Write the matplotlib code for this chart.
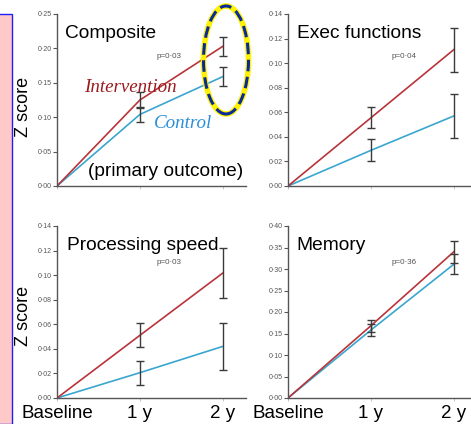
import matplotlib
matplotlib.use("Agg")
import matplotlib.pyplot as plt
import numpy as np
from matplotlib.patches import Ellipse, Rectangle

W, H = 471, 424

timepoints = [0, 1, 2]
time_labels = ["Baseline", "1 y", "2 y"]

panel_titles = ["Composite", "Exec functions", "Processing speed", "Memory"]
p_values = ["p=0·03", "p=0·04", "p=0·03", "p=0·36"]

comp_int = [0.0, 0.125, 0.203]
comp_int_err = [0.0, 0.011, 0.014]
comp_ctl = [0.0, 0.104, 0.159]
comp_ctl_err = [0.0, 0.0105, 0.014]

exec_int = [0.0, 0.0555, 0.111]
exec_int_err = [0.0, 0.0086, 0.018]
exec_ctl = [0.0, 0.029, 0.057]
exec_ctl_err = [0.0, 0.009, 0.018]

proc_int = [0.0, 0.051, 0.1017]
proc_int_err = [0.0, 0.0097, 0.020]
proc_ctl = [0.0, 0.0206, 0.042]
proc_ctl_err = [0.0, 0.0098, 0.019]

mem_int = [0.0, 0.168, 0.340]
mem_int_err = [0.0, 0.014, 0.026]
mem_ctl = [0.0, 0.158, 0.311]
mem_ctl_err = [0.0, 0.013, 0.023]

yticks_comp = [0.00, 0.05, 0.10, 0.15, 0.20, 0.25]
yticks_exec = [0.00, 0.02, 0.04, 0.06, 0.08, 0.10, 0.12, 0.14]
yticks_proc = [0.00, 0.02, 0.04, 0.06, 0.08, 0.10, 0.12, 0.14]
yticks_mem = [0.00, 0.05, 0.10, 0.15, 0.20, 0.25, 0.30, 0.35, 0.40]

RED = "#B8343A"
BLUE = "#3AA6CF"
ERR = "#3a3a3a"
SANS = ["Liberation Sans", "DejaVu Sans"]
SERIF = ["Liberation Serif", "DejaVu Serif"]

fig = plt.figure(figsize=(W / 100, H / 100), dpi=100)
fig.patch.set_facecolor("white")


def fx(px):
    return px / W


def fy(py):
    return (H - py) / H


def make_ax(left_px, top_px, bottom_px, width_px=189):
    return fig.add_axes([fx(left_px), fy(bottom_px), width_px / W, (bottom_px - top_px) / H])


panels = [
    (make_ax(57, 14, 186), comp_int, comp_int_err, comp_ctl, comp_ctl_err, yticks_comp, False),
    (make_ax(288, 14, 186), exec_int, exec_int_err, exec_ctl, exec_ctl_err, yticks_exec, False),
    (make_ax(57, 226, 398), proc_int, proc_int_err, proc_ctl, proc_ctl_err, yticks_proc, True),
    (make_ax(288, 226, 398), mem_int, mem_int_err, mem_ctl, mem_ctl_err, yticks_mem, True),
]

for ax, yi, ei, yc, ec, yt, show_x in panels:
    ax.set_facecolor("none")
    ax.plot(timepoints, yc, color=BLUE, lw=1.2, zorder=2)
    ax.plot(timepoints, yi, color=RED, lw=1.2, zorder=2)
    for y, e in ((yi, ei), (yc, ec)):
        ax.errorbar(timepoints[1:], y[1:], yerr=e[1:], fmt="none", ecolor=ERR,
                    elinewidth=1.0, capsize=3, capthick=1.0, zorder=3)
    ax.set_xlim(0, 2.28)
    ax.set_ylim(yt[0], yt[-1])
    ax.set_yticks(yt)
    ax.set_yticklabels([f"{v:.2f}".replace(".", "·") for v in yt],
                       fontsize=5, color="#555555", family=SANS)
    ax.set_xticks(timepoints)
    if show_x:
        ax.set_xticklabels(time_labels, fontsize=13.5, color="black", family=SANS)
    else:
        ax.set_xticklabels([])
    ax.tick_params(axis="y", length=3, width=0.8, color="#555555", pad=1)
    ax.tick_params(axis="x", length=2, width=0.6, color="#bbbbbb", pad=3)
    for s in ("top", "right"):
        ax.spines[s].set_visible(False)
    for s in ("left", "bottom"):
        ax.spines[s].set_color("#555555")
        ax.spines[s].set_linewidth(1.0)

# panel titles
title_pos = [(65, 34), (297, 34), (67, 245), (296, 245)]
for (x, y), t in zip(title_pos, panel_titles):
    fig.text(fx(x), fy(y), t, fontsize=13.8, family=SANS, ha="left", va="center")

p_pos = [(157, 57), (392, 57), (157, 263), (392, 263)]
for (x, y), t in zip(p_pos, p_values):
    fig.text(fx(x), fy(y), t, fontsize=5.8, family=SANS, color="#555555", ha="left", va="center")

fig.text(fx(88), fy(172), "(primary outcome)", fontsize=13.8, family=SANS, ha="left", va="center")
fig.text(fx(84), fy(88), "Intervention", fontsize=13.7, family=SERIF, style="italic",
         color="#9B1B1E", ha="left", va="center")
fig.text(fx(154), fy(123), "Control", fontsize=13.7, family=SERIF, style="italic",
         color="#2B8FD8", ha="left", va="center")

for yc in (107, 316):
    fig.text(fx(23), fy(yc), "Z score", fontsize=13, family=SANS, rotation=90,
             ha="center", va="center")

# highlight ellipse
cx, cy, ew, eh = 226, 60, 45, 108
fig.patches.append(Ellipse((fx(cx), fy(cy)), ew / W, eh / H, transform=fig.transFigure,
                           fill=False, edgecolor="#FFF200", lw=4.0, zorder=5))
fig.patches.append(Ellipse((fx(cx), fy(cy)), ew / W, eh / H, transform=fig.transFigure,
                           fill=False, edgecolor="#0A2A9A", lw=2.2, linestyle=(0, (3.8, 1.8)),
                           zorder=6))

# pink side panel
fig.patches.append(Rectangle((fx(-2), 0), 13.5 / W, fy(18) + 0.01, transform=fig.transFigure,
                             facecolor="#FFC9C9", edgecolor="#1E1EFF", lw=1.0, zorder=1))

fig.savefig("out.png", dpi=100)
